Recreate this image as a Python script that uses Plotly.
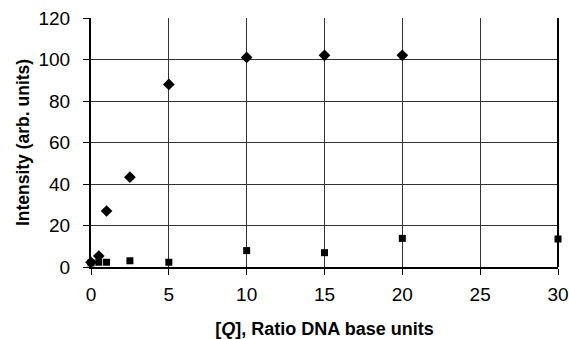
import plotly.graph_objects as go

diamond_x = [0, 0.5, 1, 2.5, 5, 10, 15, 20]
diamond_y = [2.3, 5.3, 27, 43.3, 88, 101, 102, 102]
square_x = [0, 0.5, 1, 2.5, 5, 10, 15, 20, 30]
square_y = [2.0, 2.3, 2.3, 3.0, 2.3, 7.9, 6.9, 13.8, 13.5]

x_ticks = [0, 5, 10, 15, 20, 25, 30]
y_ticks = [0, 20, 40, 60, 80, 100, 120]

fig = go.Figure()
fig.add_trace(go.Scatter(x=square_x, y=square_y, mode="markers",
                         marker=dict(symbol="square", size=7, color="black"),
                         cliponaxis=False, showlegend=False))
fig.add_trace(go.Scatter(x=diamond_x, y=diamond_y, mode="markers",
                         marker=dict(symbol="diamond", size=9, color="black"),
                         cliponaxis=False, showlegend=False))

font = "Liberation Sans, Arial, sans-serif"
fig.update_layout(
    width=569, height=339,
    margin=dict(l=91, r=11, t=18, b=72, autoexpand=False),
    plot_bgcolor="white", paper_bgcolor="white",
    font=dict(family=font, color="black", size=19),
)
fig.update_xaxes(
    range=[0, 30], tickvals=x_ticks, ticktext=[str(v) for v in x_ticks],
    showgrid=True, gridcolor="#333333", gridwidth=1,
    showline=True, linecolor="black", linewidth=2,
    ticks="outside", ticklen=6, tickcolor="black", tickwidth=1,
    zeroline=False, tickfont=dict(size=19), automargin=False,
    ticklabelstandoff=3, ticklabeloverflow="allow",
    title=dict(text="<b>[<i>Q</i>], Ratio DNA base units</b>", font=dict(size=18), standoff=22),
)
fig.update_yaxes(
    range=[0, 120], tickvals=y_ticks, ticktext=[str(v) for v in y_ticks],
    showgrid=True, gridcolor="#333333", gridwidth=1,
    showline=True, linecolor="black", linewidth=2,
    ticks="outside", ticklen=6, tickcolor="black", tickwidth=1,
    zeroline=False, tickfont=dict(size=19), automargin=False,
    ticklabelstandoff=9, ticklabeloverflow="allow",
    title=dict(text="<b>Intensity (arb. units)</b>", font=dict(size=17.5), standoff=4),
)
fig.add_shape(type="line", xref="paper", yref="paper", x0=1, x1=1, y0=0, y1=1,
              line=dict(color="black", width=2))

# remove the browser's default 8px body margin so the figure fills the window
fig.write_html("out.html", config={"displayModeBar": False},
               post_script="document.body.style.margin='0';")
